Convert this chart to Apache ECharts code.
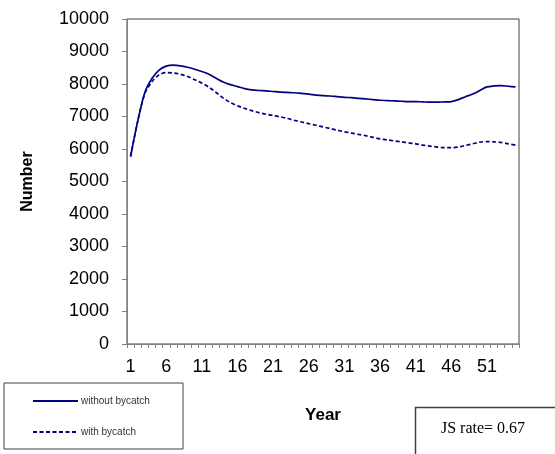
<!DOCTYPE html>
<html>
<head>
<meta charset="utf-8">
<script src="https://cdn.jsdelivr.net/npm/echarts@6/dist/echarts.min.js"></script>
<style>
  html, body { margin: 0; padding: 0; background: #fff; }
  #chart { width: 555px; height: 454px; }
</style>
</head>
<body>
<div id="chart"></div>
<script>
// Years 1..55 of the population projection
const years = Array.from({ length: 55 }, (_, i) => String(i + 1));

// Population size without bycatch
const withoutBycatch = [
  5770, 6850, 7740, 8170, 8430, 8550, 8580, 8560, 8515, 8455,
  8385, 8300, 8180, 8060, 7980, 7920, 7860, 7820, 7800, 7790,
  7770, 7750, 7740, 7730, 7710, 7690, 7660, 7640, 7630, 7610,
  7590, 7580, 7560, 7540, 7520, 7500, 7490, 7480, 7470, 7460,
  7460, 7450, 7440, 7440, 7450, 7460, 7520, 7610, 7690, 7800,
  7910, 7940, 7950, 7930, 7910
];

// Population size with bycatch
const withBycatch = [
  5770, 6850, 7700, 8070, 8280, 8350, 8340, 8300, 8230, 8130,
  8030, 7900, 7740, 7570, 7430, 7330, 7250, 7180, 7120, 7070,
  7030, 6990, 6940, 6880, 6830, 6780, 6730, 6680, 6630, 6580,
  6530, 6490, 6450, 6410, 6360, 6310, 6280, 6250, 6220, 6190,
  6160, 6120, 6090, 6060, 6040, 6040, 6060, 6110, 6160, 6210,
  6230, 6220, 6200, 6160, 6120
];

const seriesNames = ['without bycatch', 'with bycatch'];
const jsRate = 0.67;

const navy = '#000080';
const axisGray = '#808080';

const chart = echarts.init(document.getElementById('chart'), null, { renderer: 'canvas' });

chart.setOption({
  animation: false,
  backgroundColor: '#ffffff',
  grid: {
    left: 127, top: 19, right: 36, bottom: 110,
    show: true, borderColor: '#404040', borderWidth: 1,
    backgroundColor: 'transparent'
  },
  xAxis: {
    type: 'category',
    data: years,
    boundaryGap: true,
    name: 'Year',
    nameLocation: 'middle',
    nameGap: 63,
    nameTextStyle: { fontFamily: 'Liberation Sans', fontWeight: 'bold', fontSize: 17, color: '#000' },
    axisLine: { lineStyle: { color: axisGray, width: 1 } },
    axisTick: { show: true, interval: 0, length: 4, lineStyle: { color: axisGray } },
    axisLabel: {
      interval: 4, margin: 14,
      fontFamily: 'Liberation Sans', fontSize: 18, color: '#000'
    },
    splitLine: { show: false }
  },
  yAxis: {
    type: 'value',
    min: 0, max: 10000, interval: 1000,
    name: 'Number',
    nameLocation: 'middle',
    nameGap: 91,
    nameRotate: 90,
    nameTextStyle: { fontFamily: 'Liberation Sans', fontWeight: 'bold', fontSize: 16, color: '#000' },
    axisLine: { show: true, lineStyle: { color: axisGray, width: 1 } },
    axisTick: { show: true, length: 5, lineStyle: { color: axisGray } },
    axisLabel: {
      margin: 18, fontFamily: 'Liberation Sans', fontSize: 18, color: '#000',
      formatter: (v) => String(v)
    },
    splitLine: { show: false }
  },
  legend: {
    orient: 'vertical',
    left: 27, top: 391,
    itemWidth: 45, itemHeight: 10,
    itemGap: 21,
    data: seriesNames,
    itemStyle: { opacity: 0 },
    textStyle: { fontFamily: 'Liberation Sans', fontSize: 10, color: '#333', padding: [0, 0, 0, -2] }
  },
  graphic: [
    {
      type: 'rect',
      shape: { x: 4, y: 383, width: 179, height: 66 },
      style: { fill: 'none', stroke: '#404040', lineWidth: 1 },
      z: 0
    },
    {
      type: 'rect',
      shape: { x: 415.5, y: 407.5, width: 150, height: 60 },
      style: { fill: '#fff', stroke: '#404040', lineWidth: 1.5 },
      z: 0
    },
    {
      type: 'text',
      x: 483, y: 429,
      style: {
        text: 'JS rate= ' + jsRate.toFixed(2),
        fontFamily: 'Liberation Serif', fontSize: 16, fill: '#000',
        textAlign: 'center', textVerticalAlign: 'middle'
      },
      z: 1
    }
  ],
  series: [
    {
      name: seriesNames[0],
      type: 'line',
      data: withoutBycatch,
      smooth: 0.3,
      symbol: 'none',
      lineStyle: { color: navy, width: 1.7 },
      itemStyle: { color: navy }
    },
    {
      name: seriesNames[1],
      type: 'line',
      data: withBycatch,
      smooth: 0.3,
      symbol: 'none',
      lineStyle: { color: navy, width: 1.7, type: [4, 2.5] },
      itemStyle: { color: navy }
    }
  ]
});
</script>
</body>
</html>
